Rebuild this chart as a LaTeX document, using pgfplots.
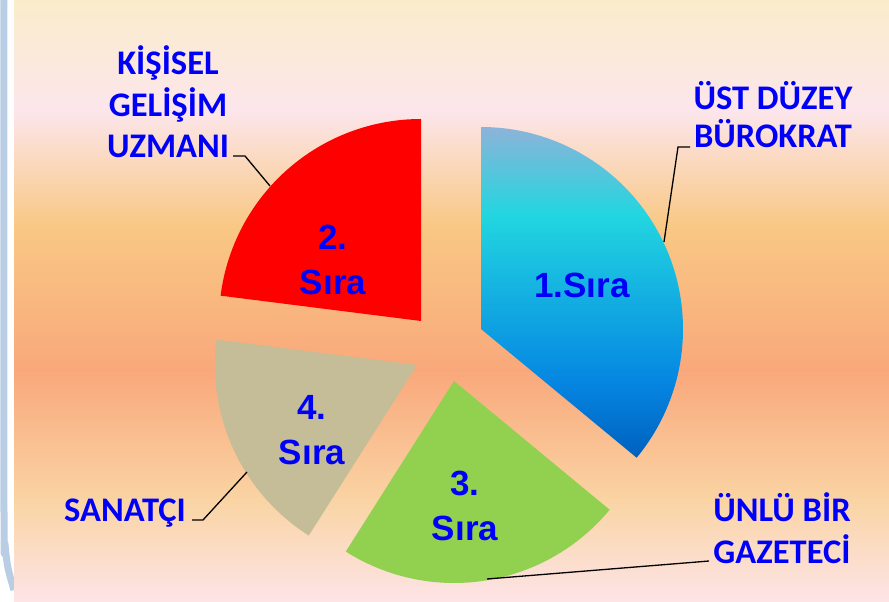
\documentclass[border=0pt]{standalone}
\usepackage{pgfplots}
\pgfplotsset{compat=1.18}
\usepackage{fontspec}
\setmainfont{Carlito}
\newfontfamily\arialfont{Liberation Sans}
\definecolor{lab}{RGB}{0,0,250}
\definecolor{bg0}{RGB}{250,236,203}
\definecolor{bg1}{RGB}{252,230,236}
\definecolor{bg2}{RGB}{249,200,132}
\definecolor{bg3}{RGB}{249,168,123}
\definecolor{bg4}{RGB}{250,212,164}
\definecolor{bg5}{RGB}{253,228,232}
\definecolor{stripc}{RGB}{185,205,229}
\definecolor{bT}{RGB}{141,179,217}
\definecolor{bC}{RGB}{34,214,224}
\definecolor{bM}{RGB}{5,135,226}
\definecolor{bB}{RGB}{0,96,190}
\definecolor{sgreen}{RGB}{146,208,80}
\definecolor{sbeige}{RGB}{196,189,151}
\definecolor{sred}{RGB}{255,0,0}
\pgfdeclareverticalshading{blueslice}{100bp}{color(0bp)=(bB); color(25bp)=(bB); color(36.7bp)=(bM); color(61.7bp)=(bC); color(75bp)=(bT); color(100bp)=(bT)}
% values (percent)
\def\vA{36}% 1. Sira  - UST DUZEY BUROKRAT
\def\vB{23}% 3. Sira  - UNLU BIR GAZETECI
\def\vC{18}% 4. Sira  - SANATCI
\def\vD{23}% 2. Sira  - KISISEL GELISIM UZMANI
\pgfmathsetmacro\aA{90}
\pgfmathsetmacro\aB{\aA-3.6*\vA}
\pgfmathsetmacro\aC{\aB-3.6*\vB}
\pgfmathsetmacro\aD{\aC-3.6*\vC}
\pgfmathsetmacro\aE{\aD-3.6*\vD}
\def\R{202}
\begin{document}
\begin{tikzpicture}
\begin{axis}[
  hide axis, clip=false, scale only axis,
  width=889pt, height=602pt,
  xmin=0, xmax=889, ymin=0, ymax=602,
]
% page
\addplot[draw=none, fill=white] coordinates {(0,0) (889,0) (889,602) (0,602)} -- cycle;
\addplot[stripc, line width=7pt, smooth] coordinates {(4,602) (4,90) (5,58) (8,34) (14,12)};
% background bands
\addplot[draw=none, shade, top color=bg0, bottom color=bg1] coordinates {(14,602) (889,602) (889,491) (14,491)} -- cycle;
\addplot[draw=none, shade, top color=bg1, bottom color=bg2] coordinates {(14,492) (889,492) (889,376) (14,376)} -- cycle;
\addplot[draw=none, shade, top color=bg2, bottom color=bg3] coordinates {(14,377) (889,377) (889,231) (14,231)} -- cycle;
\addplot[draw=none, shade, top color=bg3, bottom color=bg4] coordinates {(14,232) (889,232) (889,101) (14,101)} -- cycle;
\addplot[draw=none, shade, top color=bg4, bottom color=bg5] coordinates {(14,102) (889,102) (889,0) (14,0)} -- cycle;
% slices
\addplot[draw=none, shade, shading=blueslice, domain=\aA:\aB, samples=90, variable=\t]
  ({481+\R*cos(\t)}, {273+\R*sin(\t)}) -- (axis cs:481,273) -- cycle;
\addplot[draw=none, fill=sgreen, domain=\aB:\aC, samples=70, variable=\t]
  ({454+\R*cos(\t)}, {221+\R*sin(\t)}) -- (axis cs:454,221) -- cycle;
\addplot[draw=none, fill=sbeige, domain=\aC:\aD, samples=60, variable=\t]
  ({417+\R*cos(\t)}, {237+\R*sin(\t)}) -- (axis cs:417,237) -- cycle;
\addplot[draw=none, fill=sred, domain=\aD:\aE, samples=70, variable=\t]
  ({421+\R*cos(\t)}, {281+\R*sin(\t)}) -- (axis cs:421,281) -- cycle;
% leader lines
\addplot[black, line width=1.3pt] coordinates {(233,446) (245,446) (270,416)};
\addplot[black, line width=1.3pt] coordinates {(690,455) (678,455) (664,360)};
\addplot[black, line width=1.3pt] coordinates {(709,41) (697,40) (487,23)};
\addplot[black, line width=1.3pt] coordinates {(192,82) (203,82) (247,130)};
% slice labels
\node[text=lab, font=\arialfont\bfseries\fontsize{35}{45}\selectfont, align=center] at (axis cs:582,317) {1.Sıra};
\node[text=lab, font=\arialfont\bfseries\fontsize{35}{45}\selectfont, align=center] at (axis cs:333,342.5) {2.\\Sıra};
\node[text=lab, font=\arialfont\bfseries\fontsize{35}{45}\selectfont, align=center] at (axis cs:465,96.5) {3.\\Sıra};
\node[text=lab, font=\arialfont\bfseries\fontsize{35}{45}\selectfont, align=center] at (axis cs:312,172) {4.\\Sıra};
% outer labels
\node[text=lab, font=\bfseries\fontsize{34.5}{41.5}\selectfont, align=center] at (axis cs:168,500) {KİŞİSEL\\GELİŞİM\\UZMANI};
\node[text=lab, font=\bfseries\fontsize{34.5}{38}\selectfont, align=center] at (axis cs:773,487.5) {ÜST DÜZEY\\BÜROKRAT};
\node[text=lab, font=\bfseries\fontsize{34.5}{42}\selectfont, align=center] at (axis cs:782,73.5) {ÜNLÜ BİR\\GAZETECİ};
\node[text=lab, font=\bfseries\fontsize{34.5}{40}\selectfont, align=center] at (axis cs:125,89) {SANATÇI};
\end{axis}
\pgfresetboundingbox
\useasboundingbox (current axis.south west) rectangle (current axis.north east);
\end{tikzpicture}
\end{document}
